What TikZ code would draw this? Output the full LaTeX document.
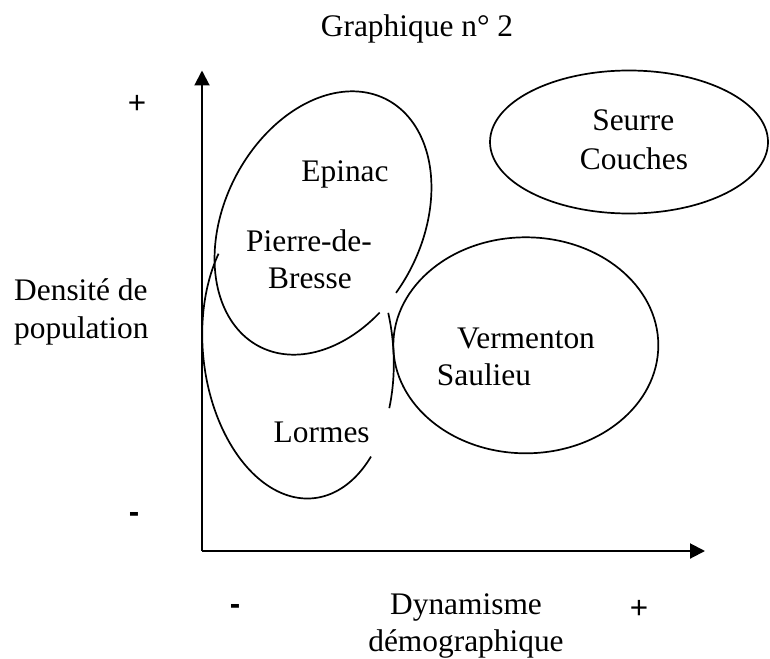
\documentclass[tikz,border=0pt]{standalone}
\usepackage{fontspec}
\setmainfont{Liberation Serif}
\newfontfamily\arialf{Liberation Sans}
\usetikzlibrary{arrows.meta,shapes.geometric}
\begin{document}
\begin{tikzpicture}[x=1pt,y=-1pt,
  lbl/.style={font=\fontsize{31.4}{37.5}\selectfont, inner sep=0pt, anchor=base},
  sym/.style={font=\arialf\fontsize{31.4}{37.5}\selectfont, inner sep=0pt},
  symb/.style={font=\arialf\bfseries\fontsize{31.4}{37.5}\selectfont, inner sep=0pt},
  curve/.style={line width=1.7pt},
  oval/.style={draw, ellipse, line width=1.7pt, inner sep=0pt},
  axis/.style={line width=2pt, -{Triangle[length=15pt,width=15pt]}}]
\useasboundingbox (0,0) rectangle (770,658);

% title and axis labels
\node[lbl] (title) at (417,37) {Graphique n° 2};
\node[lbl, anchor=base west] (dens1) at (14,300) {Densité de};
\node[lbl, anchor=base west] (dens2) at (14,338) {population};
\node[sym] (yplus) at (137,104) {+};
\node[symb] (yminus) at (134,517) {-};
\node[lbl] (dyn1) at (466,614) {Dynamisme};
\node[lbl] (dyn2) at (466,651) {démographique};
\node[symb] (xminus) at (235,609) {-};
\node[sym] (xplus) at (639,609) {+};

% axes
\coordinate (O) at (202,551);
\coordinate (ytip) at (202,70.5);
\coordinate (xtip) at (705,551);
\draw[axis] (O) -- (ytip);
\draw[axis] (O) -- (xtip);

% full ellipses
\node[oval, minimum width=278pt, minimum height=143pt] (seurre) at (629,142) {};
\node[oval, minimum width=265pt, minimum height=216pt] (vermenton) at (525.8,345.3) {};

% Epinac ellipse (tilted, with a small gap)
\draw[curve] plot[domain=257.9:607.1, samples=160, smooth]
  ({323 + 63.1*cos(\x) - 88.2*sin(\x)}, {223 - 123.8*cos(\x) - 44.9*sin(\x)});

% Lormes ellipse (partly hidden)
\draw[curve] plot[domain=46.6:220.2, samples=120, smooth]
  ({298 - 15.7*cos(\x) - 94.5*sin(\x)}, {349 - 149.2*cos(\x) + 9.9*sin(\x)});
\draw[curve] plot[domain=242.9:280.2, samples=40, smooth]
  ({298 - 15.7*cos(\x) - 94.5*sin(\x)}, {349 - 149.2*cos(\x) + 9.9*sin(\x)});

% texts inside ellipses
\node[lbl] (epinac) at (345,181) {Epinac};
\node[lbl] (pierre) at (309,251.7) {Pierre-de-};
\node[lbl] (bresse) at (310,288.3) {Bresse};
\node[lbl] (lormes) at (321.7,442.7) {Lormes};
\node[lbl] (seurreT) at (633.3,131) {Seurre};
\node[lbl] (couches) at (634,169) {Couches};
\node[lbl] (vermT) at (526,348.3) {Vermenton};
\node[lbl] (saulieu) at (484,385.7) {Saulieu};
\end{tikzpicture}
\end{document}
